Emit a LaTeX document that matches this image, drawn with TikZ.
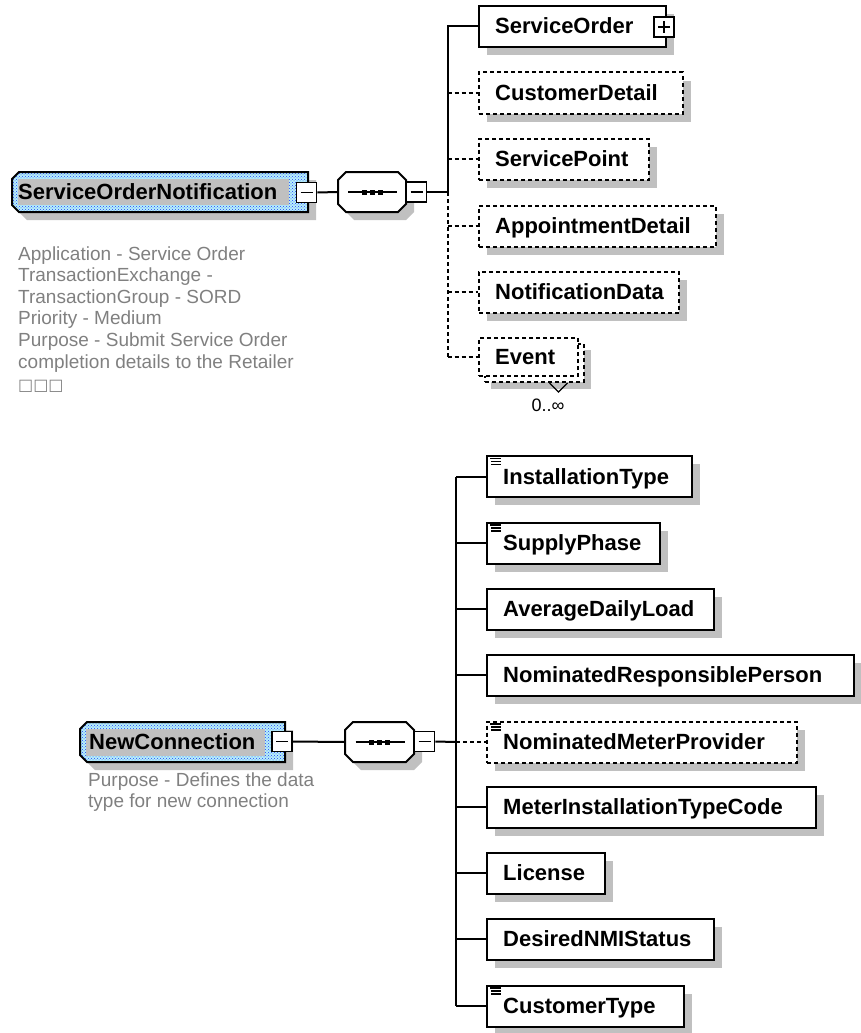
\documentclass[tikz,border=0pt]{standalone}
\usepackage{fontspec}
\setmainfont{Liberation Sans}
\newfontfamily\symfont{DejaVu Sans}
\usetikzlibrary{calc,patterns,shadows}
\definecolor{sgray}{HTML}{C0C0C0}
\definecolor{tgray}{HTML}{808080}
\definecolor{dotblue}{HTML}{2040FF}
\definecolor{dotcyan}{HTML}{B8F0F8}
\newcommand\xsdOcta[5]{\path[#1] (#2+8,#3) -- (#4-8,#3) -- (#4,#3+8) -- (#4,#5-8) -- (#4-8,#5) -- (#2+8,#5) -- (#2,#5-8) -- (#2,#3+8) -- cycle;}
\newcommand\xsdRoot[5]{\path[#1] (#2+7,#3) -- (#4,#3) -- (#4,#5) -- (#2+7,#5) -- (#2,#5-7) -- (#2,#3+7) -- cycle;}
\tikzset{
  ln/.style={line width=2pt},
  dsh/.style={line width=2pt, dash pattern=on 4pt off 3pt},
  elembox/.style={draw, line width=2pt, fill=white, minimum height=41pt, inner sep=0pt, anchor=west,
     general shadow={fill=sgray, shadow xshift=8pt, shadow yshift=-8pt}},
  optbox/.style={elembox, dash pattern=on 4pt off 3pt},
  optplain/.style={draw, line width=2pt, fill=white, dash pattern=on 4pt off 3pt, inner sep=0pt, anchor=north west},
  lbl/.style={font=\fontsize{22}{26}\selectfont\bfseries, anchor=base west, inner sep=0pt},
  anno/.style={font=\fontsize{19}{22}\selectfont, text=tgray, anchor=base west, inner sep=0pt},
  minusbox/.style={draw, line width=1.8pt, fill=white, minimum size=20pt, inner sep=0pt,
     path picture={\draw[line width=1.6pt] ([xshift=4pt]path picture bounding box.west) -- ([xshift=-4pt]path picture bounding box.east);}},
  plusbox/.style={draw, line width=1.8pt, fill=white, minimum size=20pt, inner sep=0pt,
     path picture={\draw[line width=1.6pt] ([xshift=4pt]path picture bounding box.west) -- ([xshift=-4pt]path picture bounding box.east)
        ([yshift=-4pt]path picture bounding box.north) -- ([yshift=4pt]path picture bounding box.south);}},
  hub/.style={inner sep=0pt, minimum width=68pt, minimum height=41pt},
}
\begin{document}
\begin{tikzpicture}[x=1pt,y=-1pt]
\useasboundingbox (0,0) rectangle (860,1033);
% ================= top: ServiceOrderNotification =================
\xsdRoot{fill=sgray}{20}{180}{316}{220}
\xsdRoot{fill=dotcyan}{12}{172}{308}{212}
\xsdRoot{pattern=crosshatch dots, pattern color=dotblue}{12}{172}{308}{212}
\fill[sgray] (18,179) rectangle (289,205);
\xsdRoot{draw, ln}{12}{172}{308}{212}
\node[hub, minimum width=296pt, minimum height=40pt] (son) at (160,192) {};
\node[lbl] (sonL) at (18,199) {ServiceOrderNotification};
\node[minusbox] (sonT) at (306.5,192.5) {};
% sequence compositor
\xsdOcta{fill=sgray}{346}{180}{414}{220}
\xsdOcta{draw, ln, fill=white}{338}{172}{406}{212}
\node[hub] (seq1) at (372,192) {};
\draw[ln] ($(seq1.center)+(-24,0)$) -- ($(seq1.center)+(25,0)$);
\foreach \dx in {-8,0,8} \fill ($(seq1.center)+(\dx,0)$) +(-2.5,-2.5) rectangle +(2.5,2.5);
\node[minusbox] (seq1T) at (416.5,192) {};
\draw[ln] (sonT.east) -- (seq1.west);
\coordinate (t1) at (447.5,192);
\draw[ln] (seq1T.east) -- (t1);
% children
\node[elembox, minimum width=187pt] (so) at (478,26.5) {};
\node[lbl] (soL) at (495,34) {ServiceOrder};
\node[plusbox] (soT) at (664,27) {};
\node[optbox, minimum width=204pt] (cd) at (478,93) {};
\node[lbl] (cdL) at (495,100.5) {CustomerDetail};
\node[optbox, minimum width=170pt] (sp) at (478,159) {};
\node[lbl] (spL) at (495,166.5) {ServicePoint};
\node[optbox, minimum width=237pt] (ad) at (478,226) {};
\node[lbl] (adL) at (495,233.5) {AppointmentDetail};
\node[optbox, minimum width=200pt] (nd) at (478,292) {};
\node[lbl] (ndL) at (495,299.5) {NotificationData};
% Event (multiple)
\fill[sgray] (491,350) rectangle (591,389);
\node[optplain, minimum width=99pt, minimum height=38pt] (evB) at (484,343) {};
\node[optplain, minimum width=99pt, minimum height=38pt] (ev) at (478,337) {};
\node[lbl] (evL) at (495,364) {Event};
\draw[line width=1.3pt] ($(evB.south)+(15,0)$) -- ++(9,9) -- ++(9,-9);
\node[font=\fontsize{18}{22}\selectfont, inner sep=0pt] (evM) at (548,405) {0..∞};
% connectors
\draw[ln] (t1) -- (so.west -| t1) -- (so.west);
\draw[dsh] (t1) -- (ev.west -| t1);
\foreach \n in {cd,sp,ad,nd,ev} \draw[dsh] (\n.west -| t1) -- (\n.west);
% annotation
\foreach \t [count=\i] in {Application - Service Order, TransactionExchange -, TransactionGroup - SORD, Priority - Medium, Purpose - Submit Service Order, completion details to the Retailer}
  \node[anno] (annA\i) at (18,{260+21.6*(\i-1)}) {\t};
\node[anno, font=\symfont\fontsize{16}{20}\selectfont] (annA7) at (18,390) {□□□};
% ================= bottom: NewConnection =================
\xsdRoot{fill=sgray}{88}{730}{293}{770}
\xsdRoot{fill=dotcyan}{80}{722}{285}{762}
\xsdRoot{pattern=crosshatch dots, pattern color=dotblue}{80}{722}{285}{762}
\fill[sgray] (86,729) rectangle (265,756);
\xsdRoot{draw, ln}{80}{722}{285}{762}
\node[hub, minimum width=205pt, minimum height=40pt] (nc) at (182.5,742) {};
\node[lbl] (ncL) at (89,749) {NewConnection};
\node[minusbox] (ncT) at (282,741.5) {};
\xsdOcta{fill=sgray}{353}{730}{422}{770}
\xsdOcta{draw, ln, fill=white}{345}{722}{414}{762}
\node[hub, minimum width=69pt] (seq2) at (379.5,742) {};
\draw[ln] ($(seq2.center)+(-24,0)$) -- ($(seq2.center)+(25,0)$);
\foreach \dx in {-8,0,8} \fill ($(seq2.center)+(\dx,0)$) +(-2.5,-2.5) rectangle +(2.5,2.5);
\node[minusbox] (seq2T) at (424.5,741.5) {};
\draw[ln] (ncT.east) -- (seq2.west);
\coordinate (t2) at (456,742);
\draw[ln] (seq2T.east) -- (t2);
% children
\node[elembox, minimum width=205pt] (it) at (486,476.5) {};
\node[lbl] (itL) at (503,484) {InstallationType};
\node[elembox, minimum width=173pt] (sph) at (486,543) {};
\node[lbl] (sphL) at (503,550.5) {SupplyPhase};
\node[elembox, minimum width=227pt] (adl) at (486,609) {};
\node[lbl] (adlL) at (503,616.5) {AverageDailyLoad};
\node[elembox, minimum width=367pt] (nrp) at (486,675) {};
\node[lbl] (nrpL) at (503,682.5) {NominatedResponsiblePerson};
\node[optbox, minimum width=310pt] (nmp) at (486,742) {};
\node[lbl] (nmpL) at (503,749.5) {NominatedMeterProvider};
\node[elembox, minimum width=329pt] (mit) at (486,807) {};
\node[lbl] (mitL) at (503,814.5) {MeterInstallationTypeCode};
\node[elembox, minimum width=118pt] (lic) at (486,873) {};
\node[lbl] (licL) at (503,880.5) {License};
\node[elembox, minimum width=227pt] (dns) at (486,939) {};
\node[lbl] (dnsL) at (503,946.5) {DesiredNMIStatus};
\node[elembox, minimum width=197pt] (ct) at (486,1006) {};
\node[lbl] (ctL) at (503,1013.5) {CustomerType};
\foreach \n in {it,sph,nmp,ct}
  \draw[line width=1.2pt] ($(\n.north west)+(4,3.5)$) -- ++(11,0)
        ($(\n.north west)+(5,6.5)$) -- ++(10,0)
        ($(\n.north west)+(5,9.5)$) -- ++(10,0);
% connectors
\draw[ln] (it.west -| t2) -- (ct.west -| t2);
\foreach \n in {it,sph,adl,nrp,mit,lic,dns,ct} \draw[ln] (\n.west -| t2) -- (\n.west);
\draw[dsh] (nmp.west -| t2) -- (nmp.west);
% annotation
\node[anno] (annB1) at (88,786) {Purpose - Defines the data};
\node[anno] (annB2) at (88,807.5) {type for new connection};
\end{tikzpicture}
\end{document}
